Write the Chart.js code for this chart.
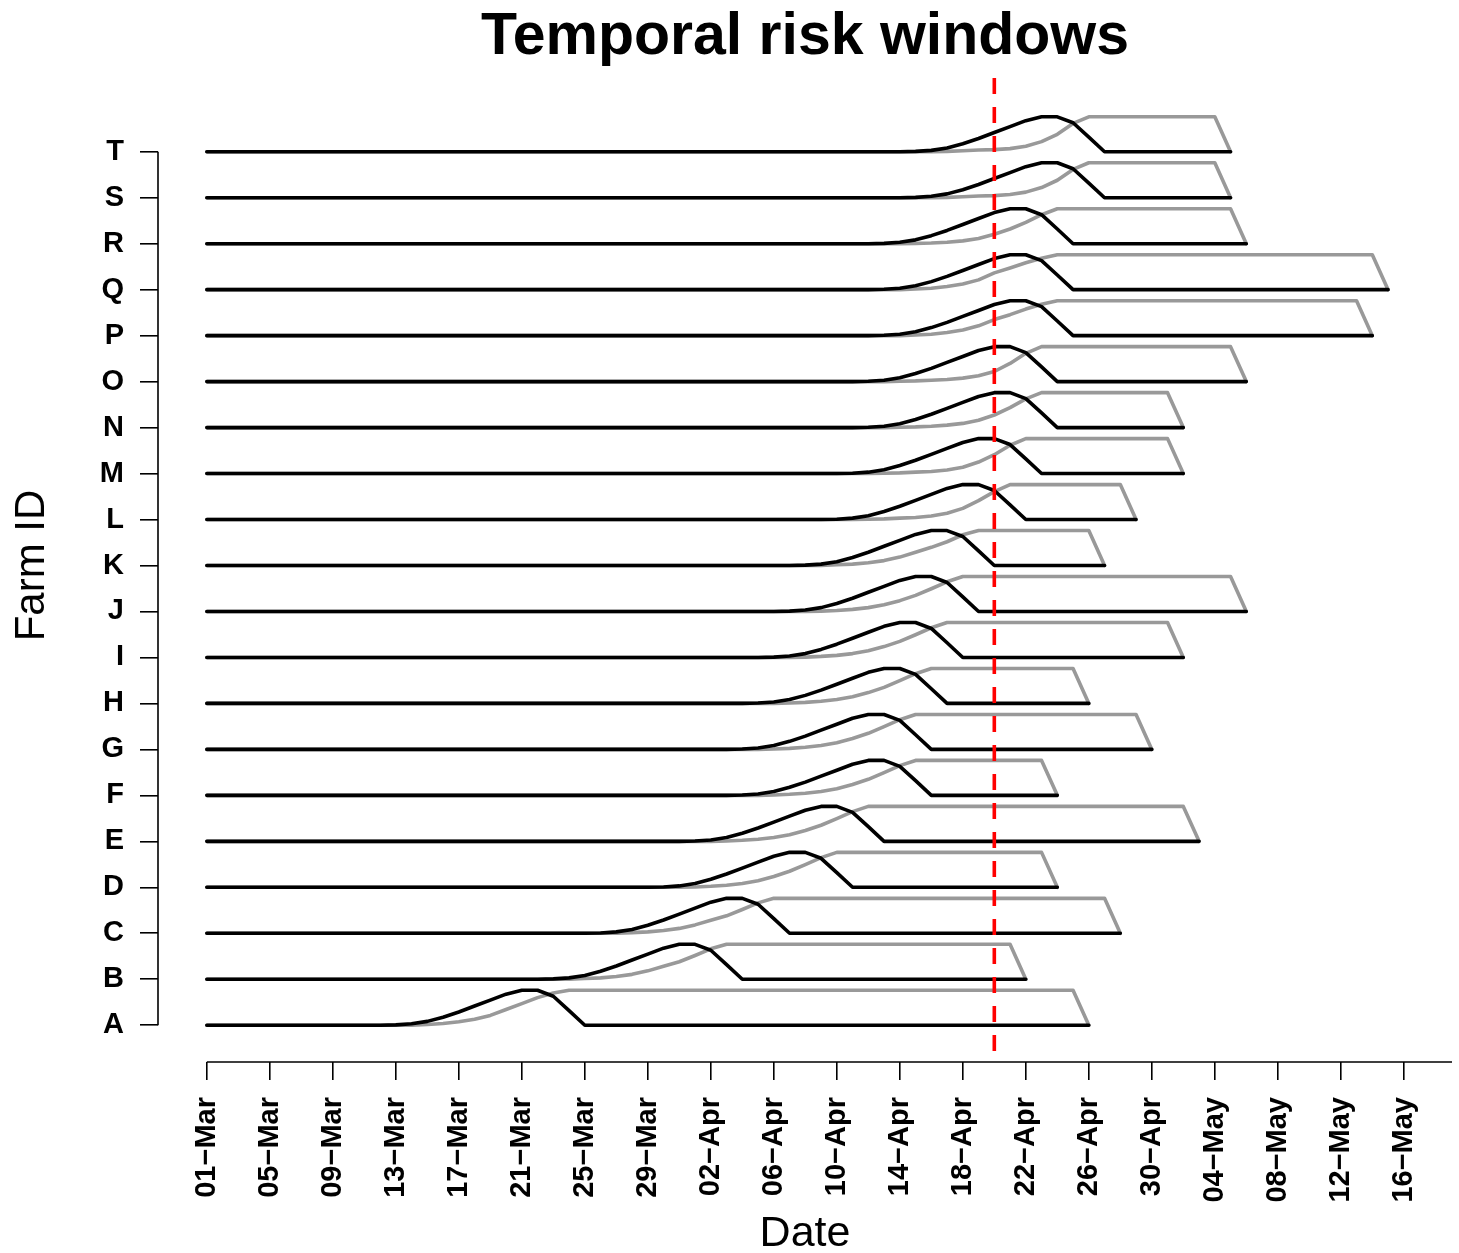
<!DOCTYPE html>
<html>
<head>
<meta charset="utf-8">
<title>Temporal risk windows</title>
<script src="https://cdn.jsdelivr.net/npm/chart.js@4.4.1/dist/chart.umd.min.js"></script>
<style>
  html, body { margin: 0; padding: 0; background: #fff; }
  canvas { display: block; }
</style>
</head>
<body>
<canvas id="riskChart" width="1459" height="1253"></canvas>
<script>
// farms, bottom to top
const farmIds = ["A", "B", "C", "D", "E", "F", "G", "H", "I", "J",
                 "K", "L", "M", "N", "O", "P", "Q", "R", "S", "T"];
// days counted from 01-Mar
const peakDay    = [20, 30, 33, 37, 39, 42, 42, 43, 44, 45, 46, 48, 49, 50, 50, 51, 51, 51, 53, 53];
const plateauEnd = [55, 51, 57, 53, 62, 53, 59, 55, 61, 65, 56, 58, 61, 61, 65, 73, 74, 65, 64, 64];
const windowEnd  = [56, 52, 58, 54, 63, 54, 60, 56, 62, 66, 57, 59, 62, 62, 66, 74, 75, 66, 65, 65];

// black curve, days relative to the peak day, level as share of the bump
const blackOffset = [-10, -9, -8, -7, -6, -5, -4, -3, -2, -1, 0, 1, 2, 3, 4];
const blackLevel  = [0, 0, 0.01, 0.04, 0.11, 0.23, 0.38, 0.55, 0.72, 0.89, 1, 1, 0.83, 0.42, 0];

// grey curve per farm, days relative to the peak day
const greyOffset = [-7, -6, -5, -4, -3, -2, -1, 0, 1, 2, 3];
const greyA = [0, 0.02, 0.05, 0.10, 0.17, 0.28, 0.45, 0.62, 0.79, 0.92, 1];
const greyB = [0, 0.02, 0.04, 0.08, 0.14, 0.24, 0.37, 0.50, 0.68, 0.87, 1];
const greyC = [0, 0.02, 0.04, 0.08, 0.14, 0.24, 0.37, 0.50, 0.68, 0.87, 1];
const greyD = [0, 0.01, 0.03, 0.06, 0.11, 0.19, 0.31, 0.46, 0.65, 0.85, 1];
const greyE = [0, 0.01, 0.03, 0.06, 0.11, 0.19, 0.31, 0.46, 0.65, 0.85, 1];
const greyF = [0, 0.01, 0.03, 0.06, 0.11, 0.19, 0.31, 0.46, 0.65, 0.85, 1];
const greyG = [0, 0.01, 0.03, 0.06, 0.11, 0.19, 0.31, 0.46, 0.65, 0.85, 1];
const greyH = [0, 0.01, 0.03, 0.06, 0.11, 0.19, 0.31, 0.46, 0.65, 0.85, 1];
const greyI = [0, 0.01, 0.03, 0.06, 0.11, 0.19, 0.31, 0.46, 0.65, 0.85, 1];
const greyJ = [0, 0.01, 0.03, 0.06, 0.11, 0.19, 0.31, 0.46, 0.65, 0.85, 1];
const greyK = [0, 0.02, 0.04, 0.08, 0.14, 0.24, 0.38, 0.52, 0.68, 0.88, 1];
const greyL = [0, 0.01, 0.02, 0.04, 0.06, 0.10, 0.18, 0.32, 0.54, 0.80, 1];
const greyM = [0, 0.01, 0.02, 0.04, 0.06, 0.10, 0.18, 0.33, 0.54, 0.81, 1];
const greyN = [0, 0.01, 0.02, 0.04, 0.07, 0.12, 0.21, 0.36, 0.57, 0.82, 1];
const greyO = [0, 0.01, 0.02, 0.04, 0.06, 0.10, 0.17, 0.29, 0.52, 0.81, 1];
const greyP = [0, 0.02, 0.04, 0.09, 0.16, 0.28, 0.46, 0.60, 0.76, 0.90, 1];
const greyQ = [0, 0.02, 0.04, 0.09, 0.16, 0.28, 0.48, 0.62, 0.77, 0.90, 1];
const greyR = [0, 0.01, 0.02, 0.04, 0.08, 0.15, 0.27, 0.42, 0.61, 0.83, 1];
const greyS = [0, 0.01, 0.03, 0.05, 0.06, 0.09, 0.16, 0.29, 0.50, 0.81, 1];
const greyT = [0, 0.01, 0.03, 0.05, 0.06, 0.09, 0.16, 0.29, 0.50, 0.81, 1];
const greyLevels = [greyA, greyB, greyC, greyD, greyE, greyF, greyG, greyH, greyI, greyJ,
                    greyK, greyL, greyM, greyN, greyO, greyP, greyQ, greyR, greyS, greyT];
const bumpHeight = 0.76;

const tickDays = [0, 4, 8, 12, 16, 20, 24, 28, 32, 36, 40, 44, 48, 52, 56, 60, 64, 68, 72, 76];
const tickLabels = ["01\u2212Mar", "05\u2212Mar", "09\u2212Mar", "13\u2212Mar", "17\u2212Mar",
                    "21\u2212Mar", "25\u2212Mar", "29\u2212Mar", "02\u2212Apr", "06\u2212Apr",
                    "10\u2212Apr", "14\u2212Apr", "18\u2212Apr", "22\u2212Apr", "26\u2212Apr",
                    "30\u2212Apr", "04\u2212May", "08\u2212May", "12\u2212May", "16\u2212May"];
const cutoffDay = 50; // 20-Apr

const xMin = -3.1, xMax = 79.06;
const yMin = -0.8, yMax = 20.8;
const FONT = "'Liberation Sans', Arial, Helvetica, sans-serif";

const datasets = [];
farmIds.forEach((id, i) => {
  const p = peakDay[i];

  const black = [{ x: 0, y: i }];
  blackOffset.forEach((o, k) => black.push({ x: p + o, y: i + bumpHeight * blackLevel[k] }));
  black.push({ x: windowEnd[i], y: i });

  const grey = [{ x: 0, y: i }];
  greyOffset.forEach((o, k) => grey.push({ x: p + o, y: i + bumpHeight * greyLevels[i][k] }));
  grey.push({ x: plateauEnd[i], y: i + bumpHeight });
  grey.push({ x: windowEnd[i], y: i });

  datasets.push({ label: id + " grey", data: grey, borderColor: "#999999", order: 2 });
  datasets.push({ label: id + " black", data: black, borderColor: "#000000", order: 1 });
});
datasets.push({
  label: "cutoff",
  data: [{ x: cutoffDay, y: yMax }, { x: cutoffDay, y: yMin }],
  borderColor: "#ff0000",
  borderWidth: 3.6,
  borderDash: [16, 13],
  borderDashOffset: 20,
  borderCapStyle: "butt",
  order: 0
});

// R-style axis lines: x from first tick to the right edge, y from A to T
const axisLines = {
  id: "axisLines",
  afterDraw(chart) {
    const { ctx, scales: { x, y } } = chart;
    ctx.save();
    ctx.strokeStyle = "#000";
    ctx.lineWidth = 1.6;
    ctx.beginPath();
    ctx.moveTo(x.getPixelForValue(tickDays[0]), y.bottom);
    ctx.lineTo(x.right, y.bottom);
    ctx.moveTo(x.left, y.getPixelForValue(0));
    ctx.lineTo(x.left, y.getPixelForValue(farmIds.length - 1));
    ctx.stroke();
    ctx.restore();
  }
};

new Chart(document.getElementById("riskChart"), {
  type: "line",
  data: { datasets: datasets },
  plugins: [axisLines],
  options: {
    responsive: false,
    animation: false,
    devicePixelRatio: 1,
    layout: { padding: { left: 0, right: 7, top: 0, bottom: 0 } },
    elements: {
      point: { radius: 0 },
      line: { borderWidth: 3.6, tension: 0, borderJoinStyle: "round", borderCapStyle: "round", fill: false }
    },
    plugins: {
      legend: { display: false },
      tooltip: { enabled: false },
      title: {
        display: true,
        fullSize: false,
        text: "Temporal risk windows",
        color: "#000",
        font: { family: FONT, size: 59, weight: "bold", lineHeight: 1 },
        padding: { top: 8, bottom: 2 }
      }
    },
    scales: {
      x: {
        type: "linear",
        min: xMin,
        max: xMax,
        afterBuildTicks: (scale) => { scale.ticks = tickDays.map(v => ({ value: v })); },
        afterFit: (scale) => { scale.height = 191; },
        grid: { drawOnChartArea: false, drawTicks: true, tickLength: 18, color: "#000", lineWidth: 1.6 },
        border: { display: false },
        ticks: {
          autoSkip: false,
          minRotation: 90,
          maxRotation: 90,
          padding: 17,
          color: "#000",
          font: { family: FONT, size: 29, weight: "bold" },
          callback: (v) => tickLabels[tickDays.indexOf(v)]
        },
        title: {
          display: true,
          text: "Date",
          color: "#000",
          font: { family: FONT, size: 43, lineHeight: 1 },
          padding: { top: 0, bottom: -3 }
        }
      },
      y: {
        type: "linear",
        min: yMin,
        max: yMax,
        afterBuildTicks: (scale) => { scale.ticks = farmIds.map((_, i) => ({ value: i })); },
        afterFit: (scale) => { scale.width = 158; },
        grid: { drawOnChartArea: false, drawTicks: true, tickLength: 18, color: "#000", lineWidth: 1.6 },
        border: { display: false },
        ticks: {
          autoSkip: false,
          padding: 16,
          color: "#000",
          font: { family: FONT, size: 29, weight: "bold" },
          callback: (v) => farmIds[v]
        },
        title: {
          display: true,
          text: "Farm ID",
          color: "#000",
          font: { family: FONT, size: 42, lineHeight: 1 },
          padding: { top: 11, bottom: 0 }
        }
      }
    }
  }
});
</script>
</body>
</html>
